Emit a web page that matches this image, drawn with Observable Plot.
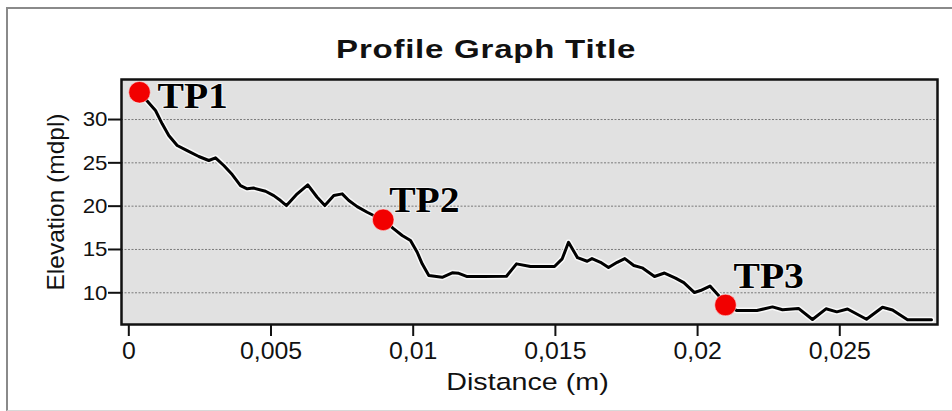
<!DOCTYPE html>
<html><head><meta charset="utf-8">
<script src="https://cdn.jsdelivr.net/npm/d3@7"></script>
<script src="https://cdn.jsdelivr.net/npm/@observablehq/plot@0.6"></script>
<style>
html,body{margin:0;padding:0;background:#fff;}
#wrap{position:relative;width:952px;height:411px;overflow:hidden;font-family:"Liberation Sans",Arial,sans-serif;}
#border{position:absolute;left:6px;top:7px;width:960px;height:401px;border-top:2px solid #8a8a8a;border-left:2px solid #8a8a8a;border-bottom:1px solid #d8d8d8;}
#title{position:absolute;left:0;top:36px;width:972px;text-align:center;}
#title span{display:inline-block;font:bold 26px/26px "Liberation Sans",Arial,sans-serif;letter-spacing:0.6px;color:#111;transform:scaleX(1.27);transform-origin:50% 50%;}
#chart{position:absolute;left:0;top:0;}
</style></head>
<body>
<div id="wrap"><div id="border"></div><div id="title"><span>Profile Graph Title</span></div><div id="chart"></div></div>
<script>
const xLabel = "Distance (m)";
const yLabel = "Elevation (mdpl)";

const distance = [0.000376,0.000939,0.001174,0.001406,0.001702,0.002053,0.002461,0.002813,0.003049,0.003340,0.003636,0.003928,0.004163,0.004385,0.004807,0.005098,0.005334,0.005545,0.005921,0.006294,0.006624,0.006892,0.007208,0.007504,0.007736,0.008031,0.008383,0.008734,0.008945,0.009318,0.009613,0.009905,0.010141,0.010316,0.010549,0.011020,0.011371,0.011603,0.011899,0.012472,0.013280,0.013632,0.014124,0.014968,0.015239,0.015461,0.015777,0.016118,0.016287,0.016586,0.016867,0.017173,0.017440,0.017757,0.018052,0.018485,0.018836,0.019223,0.019515,0.019891,0.020102,0.020436,0.020770,0.020981,0.021386,0.022089,0.022634,0.022985,0.023548,0.024040,0.024515,0.024895,0.025271,0.025939,0.026502,0.026854,0.027381,0.028225];
const elevation = [33.15,31.04,29.50,28.15,27.00,26.42,25.73,25.27,25.58,24.69,23.65,22.38,22.00,22.09,21.72,21.22,20.65,20.07,21.42,22.46,21.03,20.07,21.22,21.42,20.65,19.95,19.30,18.72,18.42,17.38,16.61,16.03,14.68,13.34,11.99,11.79,12.30,12.25,11.87,11.87,11.91,13.34,13.03,13.03,13.92,15.83,14.06,13.64,13.95,13.52,12.91,13.52,13.95,13.15,12.88,11.88,12.28,11.70,11.18,10.03,10.26,10.78,9.57,8.59,7.95,7.95,8.37,8.04,8.20,6.92,8.15,7.80,8.13,6.95,8.33,8.01,6.89,6.89];

const tpNames = ["TP1","TP2","TP3"];
const tpDistance = [0.000376,0.008945,0.020981];
const tpElevation = [33.15,18.42,8.59];

const xTicks = [0,0.005,0.01,0.015,0.02,0.025];
const xTickLabels = ["0","0,005","0,01","0,015","0,02","0,025"];
const yTicks = [10,15,20,25,30];

const profile = distance.map((d,i)=>({d, e: elevation[i]}));
const tps = tpNames.map((n,i)=>({n, d: tpDistance[i], e: tpElevation[i]}));
const tpStyle = {x:"d", y:"e", text:"n", textAnchor:"start", lineAnchor:"bottom",
  fontFamily:"'Liberation Serif','Times New Roman',serif", fontWeight:"bold", fontSize:36,
  fill:"#000", stroke:"white", strokeWidth:2, strokeOpacity:0.6};

const svg = Plot.plot({
  width: 952, height: 411,
  marginLeft: 121, marginRight: 15, marginTop: 79, marginBottom: 87,
  style: {fontFamily: "'Liberation Sans', Arial, sans-serif", background: "transparent", color: "#111"},
  x: {domain: [-0.000257, 0.028436]},
  y: {domain: [6.34, 34.62]},
  marks: [
    Plot.frame({fill: "#e1e1e1"}),
    Plot.gridY(yTicks, {stroke: "#7a7a7a", strokeOpacity: 1, strokeDasharray: "2,1.5", strokeWidth: 1}),
    Plot.line(profile, {x: "d", y: "e", stroke: "white", strokeWidth: 6, strokeOpacity: 0.8}),
    Plot.line(profile, {x: "d", y: "e", stroke: "#000", strokeWidth: 3, strokeLinejoin: "round"}),
    Plot.dot(tps, {x: "d", y: "e", r: 10.8, fill: "#f20000", stroke: "white", strokeWidth: 1, strokeOpacity: 0.5}),
    Plot.text(tps.filter(t => t.n === "TP1"), {...tpStyle, dx: 18, dy: 16}),
    Plot.text(tps.filter(t => t.n === "TP2"), {...tpStyle, dx: 6, dy: -8}),
    Plot.text(tps.filter(t => t.n === "TP3"), {...tpStyle, dx: 8, dy: -17}),
    Plot.frame({stroke: "#111", strokeWidth: 2.5}),
    Plot.axisX(xTicks, {tickSize: 12, tickPadding: 6, fontSize: 23, strokeWidth: 2, label: null,
      tickFormat: d => xTickLabels[xTicks.indexOf(d)]}),
    Plot.axisY(yTicks, {tickSize: 13, tickPadding: 1, fontSize: 21, strokeWidth: 2, label: null}),
    Plot.text([xLabel], {text: d => d, frameAnchor: "bottom", textAnchor: "middle", lineAnchor: "bottom", dy: 65, dx: -2, fontSize: 24.5, fill: "#111"}),
    Plot.text([yLabel], {text: d => d, frameAnchor: "left", textAnchor: "middle", rotate: -90, dx: -65, fontSize: 24.5, lineAnchor: "middle", fill: "#111"})
  ]
});
document.getElementById("chart").appendChild(svg);

// horizontal stretch of the reference's lettering
const stretch = {"Distance (m)": 1.17, "TP1": 1.1, "TP2": 1.1, "TP3": 1.1};
xTickLabels.forEach(t => stretch[t] = 1.08);
yTicks.forEach(t => stretch[String(t)] = 1.06);
d3.select(svg).selectAll("text").each(function() {
  const f = stretch[this.textContent];
  if (!f) return;
  const len = this.getComputedTextLength();
  this.setAttribute("textLength", (len * f).toFixed(1));
  this.setAttribute("lengthAdjust", "spacingAndGlyphs");
});
</script>
</body></html>
